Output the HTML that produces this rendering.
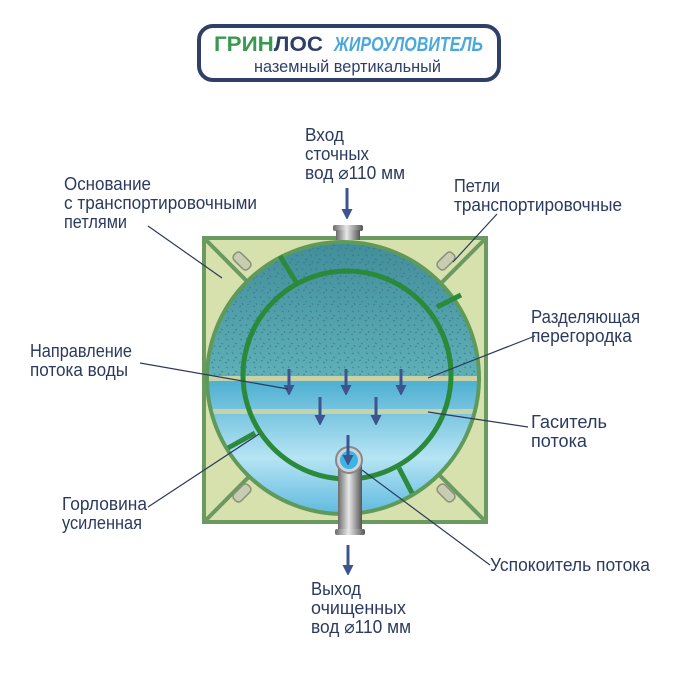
<!DOCTYPE html>
<html><head><meta charset="utf-8"><style>
html,body{margin:0;padding:0;background:#fff;}
svg text{font-family:"Liberation Sans","DejaVu Sans",sans-serif;fill:#2b3a5e;font-size:18px;}
</style></head><body>
<svg width="700" height="670" viewBox="0 0 700 670" xmlns="http://www.w3.org/2000/svg">
<defs>
<linearGradient id="top" x1="0" y1="0" x2="0" y2="1">
<stop offset="0" stop-color="#3f8a98"/><stop offset="1" stop-color="#5fb0b8"/></linearGradient>
<linearGradient id="bot" x1="0" y1="0" x2="0" y2="1">
<stop offset="0" stop-color="#4aaed0"/><stop offset="0.5" stop-color="#b6e4f4"/><stop offset="1" stop-color="#3aa8d6"/></linearGradient>
<linearGradient id="pipe" x1="0" y1="0" x2="1" y2="0">
<stop offset="0" stop-color="#6a6a6a"/><stop offset="0.45" stop-color="#e8e8e8"/><stop offset="1" stop-color="#555"/></linearGradient>
<pattern id="spk" width="14" height="14" patternUnits="userSpaceOnUse">
<path d="M2 3l2 1M8 2l1 2M11 7l2 1M4 9l1 2M9 11l2-1M1 13l2-1" stroke="#2f6f7e" stroke-width="1" opacity="0.6"/></pattern>
<clipPath id="cc"><circle cx="343" cy="378" r="135"/></clipPath>
<marker id="ah" markerWidth="10" markerHeight="11" refX="5" refY="5.5" orient="auto" markerUnits="userSpaceOnUse"><path d="M0,0 L11,5.5 L0,11z" fill="#3e5490"/></marker>
</defs>

<rect x="199" y="26" width="300" height="54" rx="14" fill="#fff" stroke="#2e3f68" stroke-width="4"/>
<text x="214" y="51" textLength="109" lengthAdjust="spacingAndGlyphs" style="font-size:21px;font-weight:bold;fill:#3a9a4c">ГРИН<tspan fill="#2e3f68">ЛОС</tspan></text>
<text x="334" y="51" textLength="149" lengthAdjust="spacingAndGlyphs" style="font-size:20px;font-weight:bold;font-style:italic;fill:#4aa8dc">ЖИРОУЛОВИТЕЛЬ</text>
<text x="254" y="72" textLength="187" lengthAdjust="spacingAndGlyphs" style="font-size:17px;fill:#2e3f68">наземный вертикальный</text>

<rect x="204" y="238" width="282" height="284" fill="#d6e1ad" stroke="#6b9a60" stroke-width="4"/>
<path d="M204 238L486 522M486 238L204 522" stroke="#6b9a60" stroke-width="4"/>
<g fill="#c8ccb0" stroke="#8a8f78" stroke-width="1.5">
<rect x="232" y="256" width="20" height="10" rx="4" transform="rotate(45 242 261)"/>
<rect x="436" y="256" width="20" height="10" rx="4" transform="rotate(-45 446 261)"/>
<rect x="232" y="488" width="20" height="10" rx="4" transform="rotate(-45 242 493)"/>
<rect x="436" y="488" width="20" height="10" rx="4" transform="rotate(45 446 493)"/>
</g>

<g clip-path="url(#cc)">
<rect x="200" y="230" width="300" height="148" fill="url(#top)"/>
<rect x="200" y="230" width="300" height="148" fill="url(#spk)"/>
<rect x="200" y="378" width="300" height="160" fill="url(#bot)"/>
<rect x="200" y="376" width="300" height="5" fill="#c8d2a8"/>
<rect x="200" y="409" width="300" height="5" fill="#c8d2a8"/>
</g>
<circle cx="343" cy="378" r="136" fill="none" stroke="#5f9a5a" stroke-width="4"/>
<circle cx="347" cy="375" r="104" fill="none" stroke="#2a8a3a" stroke-width="5"/>
<g stroke="#2c8a3c" stroke-width="5">
<path d="M280 256L296 282"/><path d="M437 307L461 295"/><path d="M255 433L228 448"/><path d="M399 468L412 493"/>
</g>

<rect x="333" y="225" width="30" height="6" rx="2" fill="url(#pipe)"/>
<rect x="336" y="230" width="24" height="10" fill="url(#pipe)"/>
<rect x="338" y="462" width="24" height="68" fill="url(#pipe)"/>
<rect x="335" y="529" width="30" height="6" rx="2" fill="url(#pipe)"/>
<circle cx="349" cy="460" r="13" fill="#cfd4d8" stroke="#888" stroke-width="2"/>
<circle cx="349" cy="460" r="9" fill="#3bb4e6"/>

<g stroke="#3e5490" stroke-width="3" fill="none" marker-end="url(#ah)">
<path d="M289 369V390"/><path d="M346 369V390"/><path d="M401 369V390"/>
<path d="M320 397V420"/><path d="M376 397V420"/><path d="M348 435V460"/>
<path d="M347 188V214"/><path d="M348 545V570"/>
</g>

<g stroke="#2b3a5e" stroke-width="1.2" fill="none">
<path d="M148 226L222 278"/>
<path d="M497 214L453 262"/>
<path d="M535 336L428 378"/>
<path d="M140 363L288 389"/>
<path d="M528 427L428 412"/>
<path d="M148 507L259 434"/>
<path d="M490 565L362 470"/>
</g>

<text x="305" y="141" textLength="39" lengthAdjust="spacingAndGlyphs">Вход</text>
<text x="305" y="160" textLength="64" lengthAdjust="spacingAndGlyphs">сточных</text>
<text x="305" y="179" textLength="100" lengthAdjust="spacingAndGlyphs">вод ⌀110 мм</text>
<text x="64" y="190" textLength="87" lengthAdjust="spacingAndGlyphs">Основание</text>
<text x="64" y="209" textLength="193" lengthAdjust="spacingAndGlyphs">с транспортировочными</text>
<text x="64" y="228" textLength="63" lengthAdjust="spacingAndGlyphs">петлями</text>
<text x="454" y="192" textLength="46" lengthAdjust="spacingAndGlyphs">Петли</text>
<text x="454" y="211" textLength="168" lengthAdjust="spacingAndGlyphs">транспортировочные</text>
<text x="531" y="323" textLength="109" lengthAdjust="spacingAndGlyphs">Разделяющая</text>
<text x="531" y="342" textLength="101" lengthAdjust="spacingAndGlyphs">перегородка</text>
<text x="30" y="357" textLength="102" lengthAdjust="spacingAndGlyphs">Направление</text>
<text x="30" y="376" textLength="98" lengthAdjust="spacingAndGlyphs">потока воды</text>
<text x="531" y="428" textLength="76" lengthAdjust="spacingAndGlyphs">Гаситель</text>
<text x="531" y="447" textLength="56" lengthAdjust="spacingAndGlyphs">потока</text>
<text x="62" y="510" textLength="85" lengthAdjust="spacingAndGlyphs">Горловина</text>
<text x="62" y="529" textLength="80" lengthAdjust="spacingAndGlyphs">усиленная</text>
<text x="490" y="571" textLength="160" lengthAdjust="spacingAndGlyphs">Успокоитель потока</text>
<text x="311" y="595" textLength="50" lengthAdjust="spacingAndGlyphs">Выход</text>
<text x="311" y="614" textLength="95" lengthAdjust="spacingAndGlyphs">очищенных</text>
<text x="311" y="633" textLength="100" lengthAdjust="spacingAndGlyphs">вод ⌀110 мм</text>
</svg>
</body></html>
